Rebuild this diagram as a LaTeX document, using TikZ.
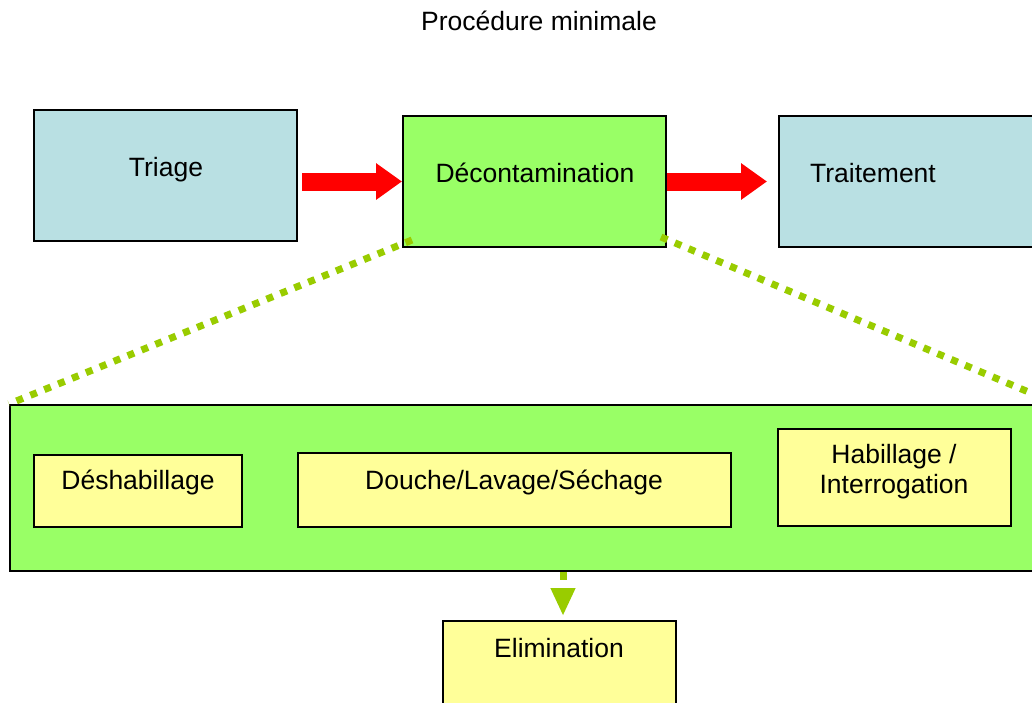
\documentclass[tikz,border=0pt]{standalone}
\usepackage{fontspec}
\setmainfont{Liberation Sans}
\usepackage{tikz}
\usetikzlibrary{arrows.meta, calc, positioning}
\definecolor{pastelblue}{RGB}{185,224,227}
\definecolor{pastelgreen}{RGB}{153,255,102}
\definecolor{pastelyellow}{RGB}{255,255,153}
\definecolor{olivegreen}{RGB}{153,204,0}

\tikzset{
  box/.style={draw=black, line width=2pt, inner sep=0pt},
  txt/.style={anchor=base, inner sep=0pt, font=\fontsize{26.5}{30}\selectfont},
  redflow/.style={red, line width=18pt, -{Triangle[width=35pt,length=26pt]}},
  zoomline/.style={olivegreen, line width=7pt, dash pattern=on 7pt off 8pt},
  dropflow/.style={olivegreen, line width=7pt, dash pattern=on 8pt off 8pt,
    -{Triangle[width=23pt,length=28pt]}, shorten >=4pt}
}

\begin{document}
\begin{tikzpicture}[x=1pt, y=-1pt]
		\clip (0,0) rectangle (1032,702);
		\fill[white] (0,0) rectangle (1032,702);
		\node[txt] (title) at (539,30) {Procédure minimale};

		% top row
		\node[box, fill=pastelblue, minimum width=263, minimum height=131] (triage) at (165.5,175.5) {};
		\node[box, fill=pastelgreen, minimum width=263, minimum height=131] (decont) at (534.5,181.5) {};
		\node[box, fill=pastelblue, minimum width=263, minimum height=131] (traitement) at (910.5,181.5) {};
		\node[txt] (triage-t) at (166,176) {Triage};
		\node[txt] (decont-t) at (535,182) {Décontamination};
		\node[txt] (traitement-t) at (873,182) {Traitement};

		\draw[redflow] ($(triage.east |- decont.west)+(4,0)$) -- (decont.west);
		\draw[redflow] (decont.east) -- ($(traitement.west)+(-11,0)$);

		% detail of the decontamination step
		\node[box, fill=pastelgreen, minimum width=1046, minimum height=166] (phase) at (533,488) {};
		\draw[zoomline] ($(decont.south west)+(10,-8)$) -- (phase.north west);
		\draw[zoomline] ($(decont.south east)+(-6,-11)$) -- (phase.north east);

		\node[box, fill=pastelyellow, minimum width=208, minimum height=72] (deshab) at (138,491) {};
		\node[box, fill=pastelyellow, minimum width=433, minimum height=74] (douche) at (514.5,490) {};
		\node[box, fill=pastelyellow, minimum width=233, minimum height=97] (habill) at (894.5,477.5) {};
		\node[txt] (deshab-t) at (138,489) {Déshabillage};
		\node[txt] (douche-t) at (514,489) {Douche/Lavage/Séchage};
		% base is the last line here
		\node[txt, align=center] (habill-t) at (894,493) {Habillage /\\Interrogation};

		\node[box, fill=pastelyellow, minimum width=233, minimum height=130] (elim) at (559.5,686) {};
		\node[txt] (elim-t) at (559,657) {Elimination};
		\draw[dropflow] (phase.south -| 563,0) -- (elim.north -| 563,0);
\end{tikzpicture}
\end{document}
